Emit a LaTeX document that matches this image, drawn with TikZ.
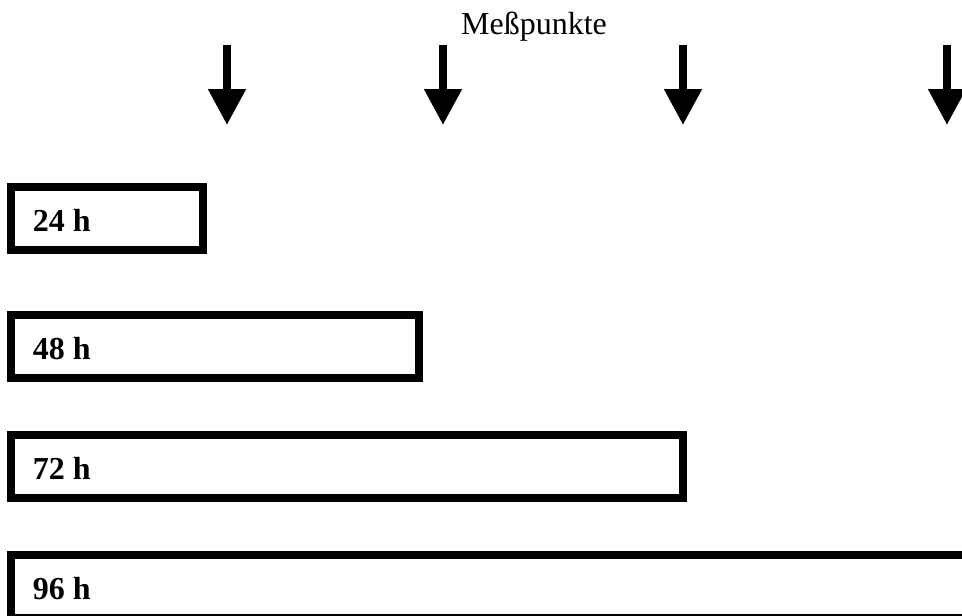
\documentclass[tikz,border=0pt]{standalone}
\usepackage{fontspec}
\setmainfont{Liberation Serif}
\usetikzlibrary{arrows.meta,positioning}

\begin{document}
\begin{tikzpicture}[x=1pt,y=-1pt,
    zeit/.style={draw,line width=8pt,minimum height=63pt,anchor=north west,inner sep=0pt,outer sep=0pt},
    zlabel/.style={font=\fontsize{32}{38}\selectfont\bfseries,inner sep=0pt,yshift=-2pt},
    mess/.style={line width=8pt,-{Triangle[width=36pt,length=36pt]}}]
  \useasboundingbox (0,0) rectangle (962,616);
  \clip (0,0) rectangle (962,616);

  % Heading over the arrows
  \node[font=\fontsize{32}{38}\selectfont,anchor=base,inner sep=0pt] (titel) at (534,34) {Meßpunkte};

  % Measuring points
  \foreach \x/\n in {227/a,443/b,683/c,947/d}{
    \coordinate (\n1) at (\x,45);
    \coordinate (\n2) at (\x,125);
    \draw[mess] (\n1) -- (\n2);
  }

  % Incubation times as bars
  \node[zeit,minimum width=192pt] (t24) at (10.7,186.7) {};
  \node[zeit,minimum width=408pt] (t48) at (10.7,315) {};
  \node[zeit,minimum width=672pt] (t72) at (10.7,435) {};
  \node[zeit,minimum width=1000pt] (t96) at (10.7,555) {};

  \node[zlabel,right=22pt of t24.west] (l24) {24 h};
  \node[zlabel,right=22pt of t48.west] (l48) {48 h};
  \node[zlabel,right=22pt of t72.west] (l72) {72 h};
  \node[zlabel,right=22pt of t96.west] (l96) {96 h};
\end{tikzpicture}
\end{document}
